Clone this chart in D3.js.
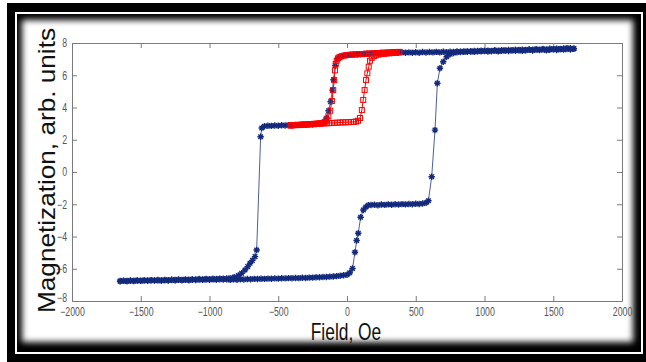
<!DOCTYPE html>
<html><head><meta charset="utf-8">
<script src="https://cdn.jsdelivr.net/npm/d3@7"></script>
<style>html,body{margin:0;padding:0;background:#fff;} svg{display:block}</style>
</head><body>
<svg id="chart" width="646" height="362"></svg>
<script>
const xTicks = [-2000,-1500,-1000,-500,0,500,1000,1500,2000];
const yTicks = [-8,-6,-4,-2,0,2,4,6,8];
const xLabel = "Field, Oe";
const yLabel = "Magnetization, arb. units";

// major loop, field decreasing (Oe, arb. units)
const blueDown = [[1650,7.64],[1625,7.60],[1600,7.68],[1575,7.59],[1550,7.63],[1525,7.57],[1500,7.62],[1475,7.58],[1450,7.54],[1425,7.61],[1400,7.56],[1375,7.59],[1350,7.53],[1325,7.58],[1300,7.55],[1275,7.51],[1250,7.57],[1225,7.52],[1200,7.55],[1175,7.50],[1150,7.54],[1125,7.51],[1100,7.48],[1075,7.53],[1050,7.49],[1025,7.47],[1000,7.51],[975,7.48],[950,7.50],[925,7.45],[900,7.49],[875,7.46],[850,7.48],[825,7.44],[800,7.47],[775,7.44],[750,7.46],[725,7.43],[700,7.46],[675,7.42],[650,7.45],[625,7.42],[600,7.44],[575,7.41],[550,7.44],[525,7.40],[500,7.43],[475,7.40],[450,7.42],[425,7.40],[400,7.42],[375,7.39],[350,7.40],[325,7.38],[300,7.39],[275,7.37],[250,7.38],[225,7.36],[200,7.36],[175,7.34],[150,7.34],[125,7.32],[100,7.31],[75,7.30],[50,7.29],[25,7.27],[0,7.25],[-25,7.21],[-50,7.14],[-70,7.02],[-85,6.60],[-98,5.72],[-106,5.08],[-119,4.36],[-134,3.80],[-148,3.33],[-160,3.12],[-180,3.03],[-200,2.99],[-225,2.97],[-250,2.95],[-275,2.96],[-300,2.93],[-325,2.94],[-350,2.91],[-375,2.92],[-400,2.90],[-425,2.91],[-450,2.88],[-475,2.90],[-500,2.87],[-525,2.88],[-550,2.86],[-575,2.87],[-600,2.84],[-620,2.73],[-628,2.19],[-657,-4.84],[-669,-5.25],[-688,-5.48],[-705,-5.66],[-722,-5.87],[-742,-6.08],[-766,-6.28],[-790,-6.42],[-820,-6.52],[-850,-6.58],[-875,-6.60],[-900,-6.62],[-925,-6.61],[-950,-6.64],[-975,-6.62],[-1000,-6.65],[-1025,-6.63],[-1050,-6.66],[-1075,-6.64],[-1100,-6.67],[-1125,-6.65],[-1150,-6.68],[-1175,-6.66],[-1200,-6.69],[-1225,-6.67],[-1250,-6.70],[-1275,-6.68],[-1300,-6.71],[-1325,-6.69],[-1350,-6.72],[-1375,-6.70],[-1400,-6.72],[-1425,-6.71],[-1450,-6.73],[-1475,-6.72],[-1500,-6.74],[-1525,-6.72],[-1550,-6.75],[-1575,-6.73],[-1600,-6.76],[-1625,-6.74],[-1650,-6.76]];

// major loop, field increasing
const blueUp = [[-1650,-6.78],[-1625,-6.75],[-1600,-6.77],[-1575,-6.74],[-1550,-6.76],[-1525,-6.73],[-1500,-6.75],[-1475,-6.72],[-1450,-6.74],[-1425,-6.71],[-1400,-6.73],[-1375,-6.72],[-1350,-6.74],[-1325,-6.71],[-1300,-6.73],[-1275,-6.70],[-1250,-6.72],[-1225,-6.69],[-1200,-6.71],[-1175,-6.69],[-1150,-6.71],[-1125,-6.68],[-1100,-6.70],[-1075,-6.67],[-1050,-6.69],[-1025,-6.67],[-1000,-6.68],[-975,-6.66],[-950,-6.68],[-925,-6.65],[-900,-6.67],[-875,-6.66],[-850,-6.69],[-825,-6.66],[-800,-6.68],[-775,-6.65],[-750,-6.67],[-725,-6.64],[-700,-6.65],[-675,-6.63],[-650,-6.64],[-625,-6.62],[-600,-6.63],[-575,-6.61],[-550,-6.62],[-525,-6.60],[-500,-6.61],[-475,-6.59],[-450,-6.60],[-425,-6.58],[-400,-6.59],[-375,-6.57],[-350,-6.58],[-325,-6.56],[-300,-6.57],[-275,-6.55],[-250,-6.55],[-225,-6.53],[-200,-6.53],[-175,-6.51],[-150,-6.51],[-125,-6.49],[-100,-6.48],[-75,-6.46],[-50,-6.43],[-25,-6.40],[0,-6.37],[20,-6.25],[40,-5.98],[58,-4.98],[70,-4.25],[82,-3.80],[99,-2.81],[119,-2.36],[137,-2.17],[155,-2.06],[175,-2.05],[200,-2.03],[225,-2.06],[250,-2.02],[275,-2.04],[300,-2.01],[325,-2.03],[350,-2.00],[375,-2.02],[400,-1.99],[425,-2.01],[450,-1.98],[475,-2.00],[500,-1.97],[525,-1.98],[550,-1.95],[575,-1.91],[592,-1.78],[616,-0.29],[640,2.60],[657,5.50],[676,6.43],[700,6.84],[725,7.15],[750,7.30],[775,7.38],[800,7.43],[825,7.46],[850,7.45],[875,7.48],[900,7.47],[925,7.50],[950,7.48],[975,7.52],[1000,7.50],[1025,7.53],[1050,7.51],[1075,7.55],[1100,7.52],[1125,7.56],[1150,7.53],[1175,7.57],[1200,7.54],[1225,7.58],[1250,7.55],[1275,7.59],[1300,7.57],[1325,7.60],[1350,7.58],[1375,7.62],[1400,7.59],[1425,7.63],[1450,7.60],[1475,7.64],[1500,7.61],[1525,7.65],[1550,7.62],[1575,7.66],[1600,7.63],[1625,7.67],[1650,7.65]];

// minor loop, field decreasing
const redDown = [[380,7.45],[360,7.43],[340,7.44],[320,7.41],[300,7.42],[280,7.40],[260,7.40],[240,7.38],[220,7.38],[200,7.36],[180,7.36],[160,7.34],[140,7.34],[120,7.32],[100,7.31],[80,7.30],[60,7.29],[40,7.28],[20,7.27],[0,7.25],[-20,7.22],[-40,7.18],[-55,7.12],[-65,7.05],[-75,6.90],[-82,6.70],[-87,6.30],[-93,5.70],[-100,5.08],[-110,4.40],[-122,3.80],[-136,3.45],[-150,3.25],[-162,3.10],[-180,3.04],[-200,3.02],[-220,3.00],[-240,2.99],[-260,2.97],[-280,2.96],[-300,2.95],[-320,2.94],[-340,2.93],[-360,2.92],[-380,2.91],[-400,2.90],[-410,2.89]];

// minor loop, field increasing
const redUp = [[-410,2.89],[-390,2.90],[-370,2.91],[-350,2.92],[-330,2.93],[-310,2.94],[-290,2.95],[-270,2.96],[-250,2.97],[-230,2.98],[-210,2.99],[-190,3.00],[-170,3.01],[-150,3.02],[-130,3.03],[-110,3.04],[-90,3.05],[-70,3.06],[-50,3.07],[-30,3.08],[-10,3.08],[10,3.09],[30,3.10],[50,3.11],[65,3.13],[80,3.18],[95,3.35],[108,3.84],[118,4.47],[128,5.08],[138,5.70],[148,6.12],[158,6.53],[167,6.90],[180,7.08],[195,7.18],[210,7.24],[230,7.28],[250,7.31],[270,7.33],[290,7.35],[310,7.37],[330,7.39],[350,7.40],[365,7.42],[380,7.44]];

const svg = d3.select("#chart");
const defs = svg.append("defs");
defs.append("filter").attr("id","soft").attr("x","-10%").attr("y","-10%").attr("width","120%").attr("height","120%")
  .append("feGaussianBlur").attr("stdDeviation",3);
defs.append("clipPath").attr("id","innerClip").append("rect")
  .attr("x",17).attr("y",14).attr("width",624).attr("height",338);

// frame
svg.append("rect").attr("x",7).attr("y",3).attr("width",660).attr("height",380).attr("fill","#000");
svg.append("rect").attr("x",15).attr("y",12).attr("width",628).attr("height",342).attr("fill","#fff");
svg.append("rect").attr("x",17).attr("y",14).attr("width",624).attr("height",338).attr("fill","#000");
svg.append("g").attr("clip-path","url(#innerClip)").append("rect")
  .attr("x",22).attr("y",20).attr("width",611).attr("height",322)
  .attr("fill","#fff").attr("filter","url(#soft)");

const x = d3.scaleLinear().domain([-2000,2000]).range([72,622]);
const y = d3.scaleLinear().domain([-8,8]).range([301,43]);

const axisColor = "#7a7a7a";
const tickFont = "Liberation Sans, Arial, sans-serif";
const sx = 0.73;

function styleAxis(g){
  g.select(".domain").attr("stroke",axisColor);
  g.selectAll(".tick line").attr("stroke",axisColor);
  g.selectAll("text").attr("fill","#555").style("font-family",tickFont).style("font-size","12px");
}

const gx = svg.append("g").attr("transform","translate(0,301)")
  .call(d3.axisBottom(x).tickValues(xTicks).tickSize(-5).tickSizeOuter(0).tickPadding(6).tickFormat(d3.format("d")));
styleAxis(gx);
gx.selectAll("text").attr("transform",`scale(${sx},1)`);

const gxt = svg.append("g").attr("transform","translate(0,43)")
  .call(d3.axisTop(x).tickValues(xTicks).tickSize(-5).tickSizeOuter(0).tickFormat(""));
styleAxis(gxt);

const gy = svg.append("g").attr("transform","translate(72,0)")
  .call(d3.axisLeft(y).tickValues(yTicks).tickSize(-5).tickSizeOuter(0).tickPadding(5).tickFormat(d3.format("d")));
styleAxis(gy);
gy.selectAll("text").attr("x",-5/sx).attr("transform",`scale(${sx},1)`)
  .attr("y",d=>d===-8?-3:0);

const gyr = svg.append("g").attr("transform","translate(622,0)")
  .call(d3.axisRight(y).tickValues(yTicks).tickSize(-5).tickSizeOuter(0).tickFormat(""));
styleAxis(gyr);

// labels
svg.append("text").attr("transform","translate(346,340) scale(0.74,1)")
  .attr("text-anchor","middle").attr("fill","#111")
  .style("font-family","Liberation Sans, Arial, sans-serif").style("font-size","23.5px")
  .text(xLabel);
svg.append("text").attr("transform","translate(55,170.5) rotate(-90)")
  .attr("text-anchor","middle").attr("fill","#111")
  .attr("textLength",285).attr("lengthAdjust","spacingAndGlyphs")
  .style("font-family","Liberation Sans, Arial, sans-serif").style("font-size","24px")
  .text(yLabel);

// series
const line = d3.line().x(d=>x(d[0])).y(d=>y(d[1]));
const blue = "#132a7c", red = "#ff0000";
const star = "M-3.2,0H3.2M0,-3.2V3.2M-2.3,-2.3L2.3,2.3M-2.3,2.3L2.3,-2.3";

function drawBlue(data){
  svg.append("path").datum(data).attr("d",line).attr("fill","none")
    .attr("stroke",blue).attr("stroke-width",1).attr("stroke-opacity",0.75);
  svg.append("g").selectAll("path").data(data).join("path")
    .attr("transform",d=>`translate(${x(d[0])},${y(d[1])})`)
    .attr("d",star).attr("fill","none").attr("stroke",blue).attr("stroke-width",1.4);
}
function drawRed(data){
  svg.append("path").datum(data).attr("d",line).attr("fill","none")
    .attr("stroke",red).attr("stroke-width",1);
  svg.append("g").selectAll("rect").data(data).join("rect")
    .attr("x",d=>x(d[0])-2.5).attr("y",d=>y(d[1])-2.5)
    .attr("width",5).attr("height",5)
    .attr("fill","none").attr("stroke",red).attr("stroke-width",1);
}
drawBlue(blueDown);
drawBlue(blueUp);
drawRed(redDown);
drawRed(redUp);
</script>
</body></html>
